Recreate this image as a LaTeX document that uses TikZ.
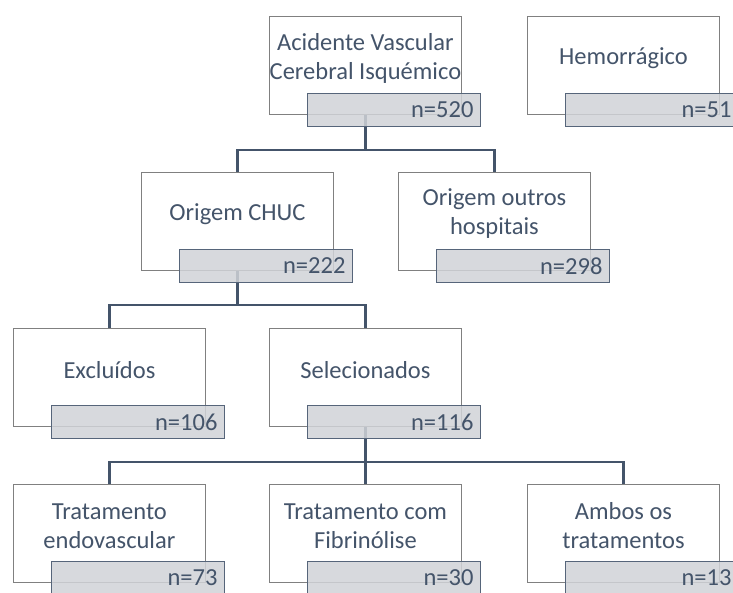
\documentclass[tikz,border=0pt]{standalone}
\usepackage{fontspec}
\setmainfont{Carlito}
\usepackage{xcolor}
\usetikzlibrary{positioning,calc}
\definecolor{txt}{HTML}{44546A}
\definecolor{edge}{HTML}{808080}
\definecolor{lbl}{HTML}{D0D3D8}
\definecolor{lbledge}{HTML}{56657A}
\pgfdeclarelayer{background}
\pgfsetlayers{background,main}
\tikzset{
  caixa/.style={anchor=north west,draw=edge,line width=0.9pt,fill=white,minimum width=192pt,minimum height=98pt,inner sep=0pt},
  rotulo/.style={align=center,text=txt,font=\fontsize{24.5}{29}\selectfont,inner sep=0pt},
  contagem/.style={anchor=north west,draw=lbledge,line width=0.9pt,fill=lbl,fill opacity=0.85,text opacity=1,text=txt,
    font=\fontsize{24.5}{28}\selectfont,minimum width=173pt,minimum height=33pt,text width=159pt,align=right,inner xsep=7pt,inner ysep=0pt},
  ligacao/.style={draw=txt,line width=2.4pt}
}
\newcommand{\caixa}[4]{% <name> <x,y> <text> <n>
  \node[caixa] (#1) at (#2) {};
  \node[rotulo] (#1-txt) at ([yshift=-42pt]#1.north) {#3};
  \node[contagem] (#1-n) at ([xshift=38pt,yshift=22pt]#1.south west) {n=#4};}

\begin{document}
\begin{tikzpicture}[x=1pt,y=-1pt]
  \path[use as bounding box,clip] (0,0) rectangle (733,593);
  % nivel 1
  \caixa{avc}{269,16}{Acidente Vascular\\Cerebral Isquémico}{520}
  \caixa{hem}{527,16}{Hemorrágico}{51}
  % nivel 2
  \caixa{chuc}{141,172}{Origem CHUC}{222}
  \caixa{outros}{398,172}{Origem outros\\hospitais}{298}
  % nivel 3
  \caixa{excl}{13,328}{Excluídos}{106}
  \caixa{sel}{269,328}{Selecionados}{116}
  % nivel 4
  \caixa{endo}{13,484}{Tratamento\\endovascular}{73}
  \caixa{fib}{269,484}{Tratamento com\\Fibrinólise}{30}
  \caixa{amb}{527,484}{Ambos os\\tratamentos}{13}
  \begin{pgfonlayer}{background}
    \fill[white] (0,0) rectangle (733,593);
    \draw[ligacao] (avc.south) -- ++(0,35) coordinate (j1) -| (chuc.north) (j1) -| (outros.north);
    \draw[ligacao] (chuc.south) -- ++(0,34) coordinate (j2) -| (excl.north) (j2) -| (sel.north);
    \draw[ligacao] (sel.south) -- ++(0,35) coordinate (j3) -| (endo.north) (j3) -| (fib.north) (j3) -| (amb.north);
  \end{pgfonlayer}
\end{tikzpicture}
\end{document}
